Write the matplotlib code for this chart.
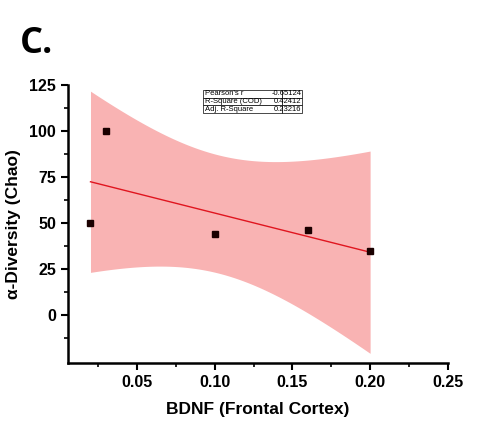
import matplotlib.pyplot as plt
import numpy as np

bdnf = np.array([0.02, 0.03, 0.10, 0.16, 0.20])
chao = np.array([50, 100, 44, 46, 35])
stat_names = ["Pearson's r", "R-Square (COD)", "Adj. R-Square"]
stat_values = ["-0.65124", "0.42412", "0.23216"]
t_crit = 3.182  # t(0.975, df=3)

# linear fit + 95% confidence band
n = len(bdnf)
slope, intercept = np.polyfit(bdnf, chao, 1)
xf = np.linspace(bdnf.min(), bdnf.max(), 200)
yf = slope * xf + intercept
resid = chao - (slope * bdnf + intercept)
s = np.sqrt(np.sum(resid ** 2) / (n - 2))
sxx = np.sum((bdnf - bdnf.mean()) ** 2)
se = s * np.sqrt(1 / n + (xf - bdnf.mean()) ** 2 / sxx)

plt.rcParams['font.family'] = ['Liberation Sans', 'DejaVu Sans']
fig = plt.figure(figsize=(4.82, 4.23), dpi=100)
ax = fig.add_axes([0.141, 0.142, 0.788, 0.657])

ax.fill_between(xf, yf - t_crit * se, yf + t_crit * se, color='#f9b3b3', lw=0)
ax.plot(xf, yf, color='#e0151f', lw=1)
ax.plot(bdnf, chao, 's', color='#1a0000', ms=5)

ax.set_xlim(0.0055, 0.25)
ax.set_ylim(-26, 125)
ax.set_xticks([0.05, 0.10, 0.15, 0.20, 0.25])
ax.set_xticks([0.025, 0.075, 0.125, 0.175, 0.225], minor=True)
ax.set_yticks([0, 25, 50, 75, 100, 125])
ax.set_yticks([-12.5, 12.5, 37.5, 62.5, 87.5, 112.5], minor=True)
ax.set_xticklabels(['0.05', '0.10', '0.15', '0.20', '0.25'], fontweight='bold')
ax.set_yticklabels(['0', '25', '50', '75', '100', '125'], fontweight='bold')
ax.tick_params(which='major', direction='out', length=5, width=1.5, labelsize=11.5)
ax.tick_params(which='minor', direction='out', length=3, width=1.2)
for sp in ['top', 'right']:
    ax.spines[sp].set_visible(False)
for sp in ['left', 'bottom']:
    ax.spines[sp].set_linewidth(1.8)

ax.set_xlabel('BDNF (Frontal Cortex)', fontsize=12.5, fontweight='bold', labelpad=9)
ax.set_ylabel('\u03b1-Diversity (Chao)', fontsize=12.5, fontweight='bold', labelpad=6)

tbl = ax.table(cellText=[[a, b] for a, b in zip(stat_names, stat_values)],
               bbox=[0.355, 0.899, 0.262, 0.083], colWidths=[0.8, 0.2])
tbl.auto_set_font_size(False)
tbl.set_fontsize(5.5)
for (r, c), cell in tbl.get_celld().items():
    cell.set_linewidth(0.5)
    cell.set_facecolor('white')
    cell.PAD = 0.03
    cell.get_text().set_ha('left' if c == 0 else 'right')

fig.text(0.042, 0.875, 'C.', fontsize=26, fontweight='bold', family=['Open Sans', 'DejaVu Sans'])

fig.savefig('out.png', dpi=100)
